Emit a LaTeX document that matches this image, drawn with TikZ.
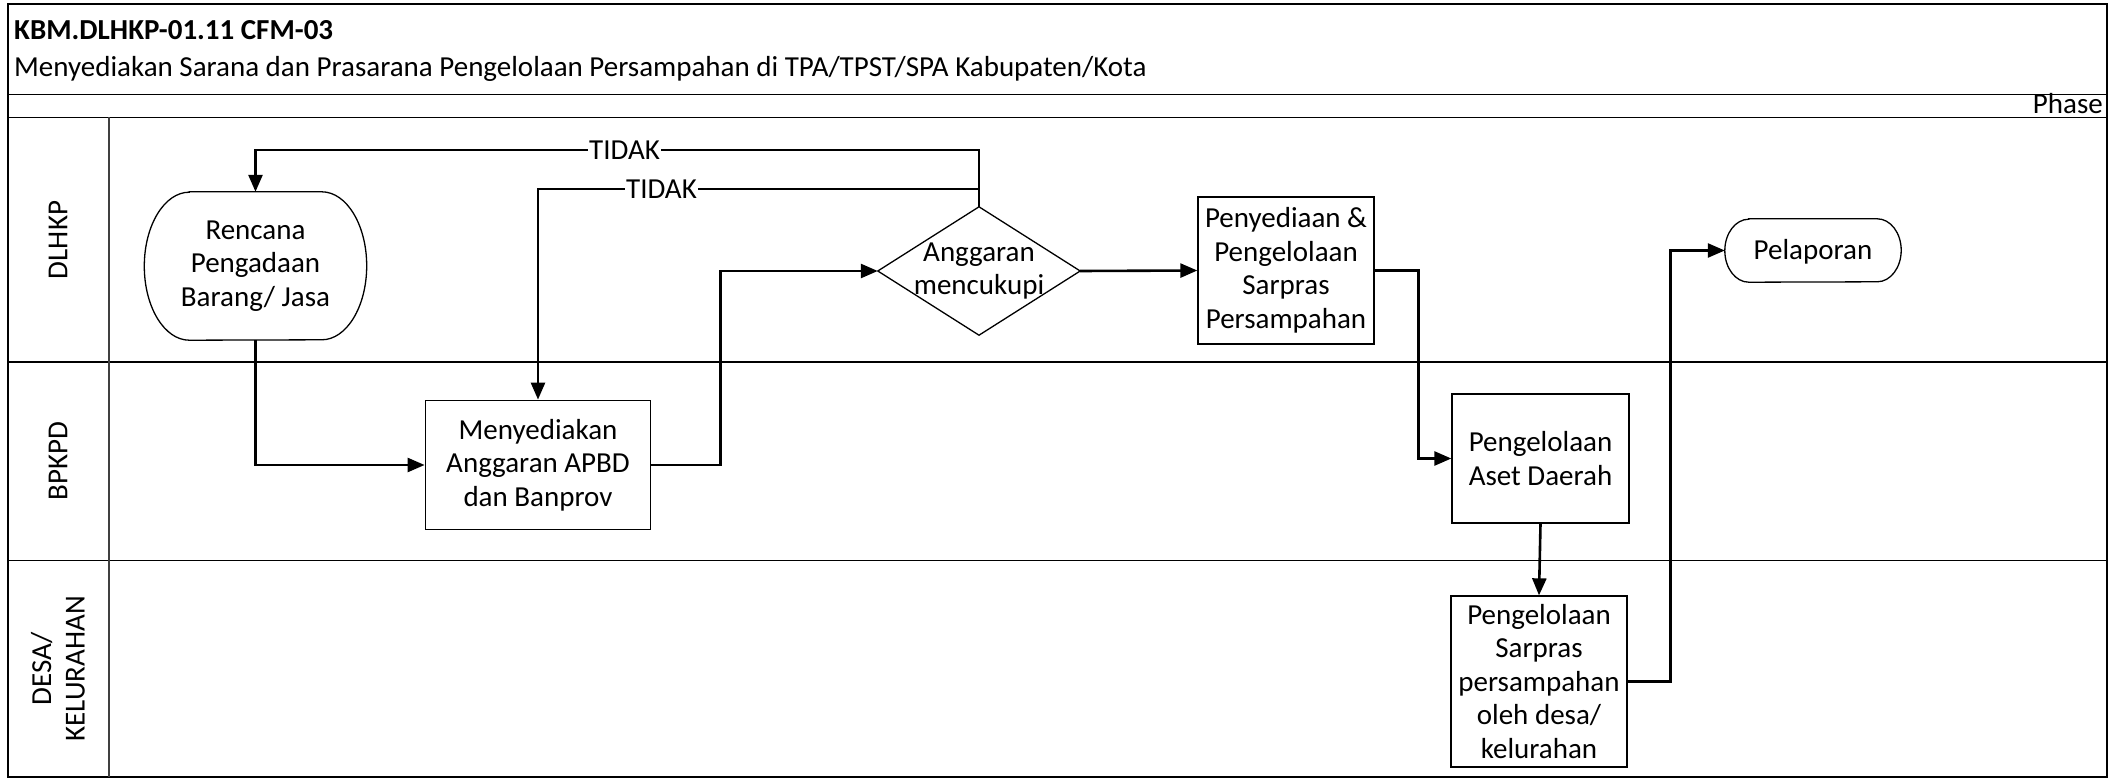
\documentclass[tikz,border=0pt]{standalone}
\usepackage{fontspec}
\setmainfont{Carlito}
\usetikzlibrary{arrows.meta}
\begin{document}
\begin{tikzpicture}[x=1pt,y=-1pt,
  every node/.style={font=\fontsize{29}{33.5}\selectfont, inner sep=0pt},
  lane/.style={line width=1.8pt},
  shapeline/.style={line width=1.3pt},
  box/.style={draw, shapeline, align=center},
  ghost/.style={align=center},
  flow/.style={line width=2.6pt, line join=miter, -{Triangle[length=17pt,width=14pt]}},
  lbl/.style={fill=white, inner xsep=1pt, inner ysep=0pt},
  lanetitle/.style={rotate=90, align=center}]

\useasboundingbox (0,0) rectangle (2118,778);

% frame, header rows and swimlanes
\draw[lane] (8,4) rectangle (2107,777);
\draw[lane] (8,94.5) -- (2107,94.5);
\draw[lane] (8,117.5) -- (2107,117.5);
\draw[lane] (8,362) -- (2107,362);
\draw[lane] (8,560.5) -- (2107,560.5);
\draw[shapeline, black!75] (109,117.5) -- (109,777);

\node[anchor=base west, font=\fontsize{29}{33.5}\selectfont\bfseries] (code) at (14,40) {KBM.DLHKP-01.11 CFM-03};
\node[anchor=base west] (title) at (14,77) {Menyediakan Sarana dan Prasarana Pengelolaan Persampahan di TPA/TPST/SPA Kabupaten/Kota};
\node[anchor=base east] (phase) at (2103,114) {Phase};

\node[lanetitle] (l1) at (58,240) {DLHKP};
\node[lanetitle] (l2) at (58,461) {BPKPD};
\node[lanetitle] (l3) at (58,669) {DESA/\\KELURAHAN};

% process steps
\node[ghost, minimum width=222pt, minimum height=148pt] (ren) at (255.5,266) {Rencana\\Pengadaan\\Barang/ Jasa};
\draw[shapeline] ([xshift=45pt]ren.north west) -- ([xshift=-45pt]ren.north east)
  arc[start angle=90, end angle=-90, x radius=45pt, y radius=74pt]
  -- ([xshift=45pt]ren.south west)
  arc[start angle=270, end angle=90, x radius=45pt, y radius=74pt] -- cycle;

\node[ghost, minimum width=202pt, minimum height=128pt] (dec) at (979,271) {Anggaran\\mencukupi};
\draw[shapeline] (dec.north) -- (dec.east) -- (dec.south) -- (dec.west) -- cycle;

\node[box, minimum width=176pt, minimum height=147pt] (pen) at (1286,270.5) {Penyediaan \&\\Pengelolaan\\Sarpras\\Persampahan};

\node[ghost, minimum width=176pt, minimum height=63pt, text depth=2pt] (lap) at (1813,250.5) {Pelaporan};
\draw[shapeline] ([xshift=24pt]lap.north west) -- ([xshift=-24pt]lap.north east)
  arc[start angle=90, end angle=-90, x radius=24pt, y radius=31.5pt]
  -- ([xshift=24pt]lap.south west)
  arc[start angle=270, end angle=90, x radius=24pt, y radius=31.5pt] -- cycle;

\node[box, minimum width=225.5pt, minimum height=129.5pt] (apbd) at (538,465) {Menyediakan\\Anggaran APBD\\dan Banprov};
\node[box, minimum width=177pt, minimum height=129pt] (aset) at (1540.5,458.5) {Pengelolaan\\Aset Daerah};
\node[box, minimum width=176pt, minimum height=171pt] (desa) at (1539,681.5) {Pengelolaan\\Sarpras\\persampahan\\oleh desa/\\kelurahan};

% connectors
\coordinate (t1) at (979,150);
\coordinate (t2) at (979,189);
\draw[flow] (ren.south) |- (apbd.west);
\draw[flow] (apbd.east) -- ++(69,0) |- (dec.west);
\draw[flow] (dec.north) -- (t1) -| node[lbl, pos=0.245] {TIDAK} (ren.north);
\draw[flow] (t2) -| node[lbl, pos=0.36] {TIDAK} (apbd.north);
\draw[flow] (dec.east) -- (pen.west);
\draw[flow] (pen.east) -- ++(44,0) |- (aset.west);
\draw[flow] (aset.south) -- (desa.north);
\draw[flow] (desa.east) -- ++(43,0) |- (lap.west);

\end{tikzpicture}
\end{document}
